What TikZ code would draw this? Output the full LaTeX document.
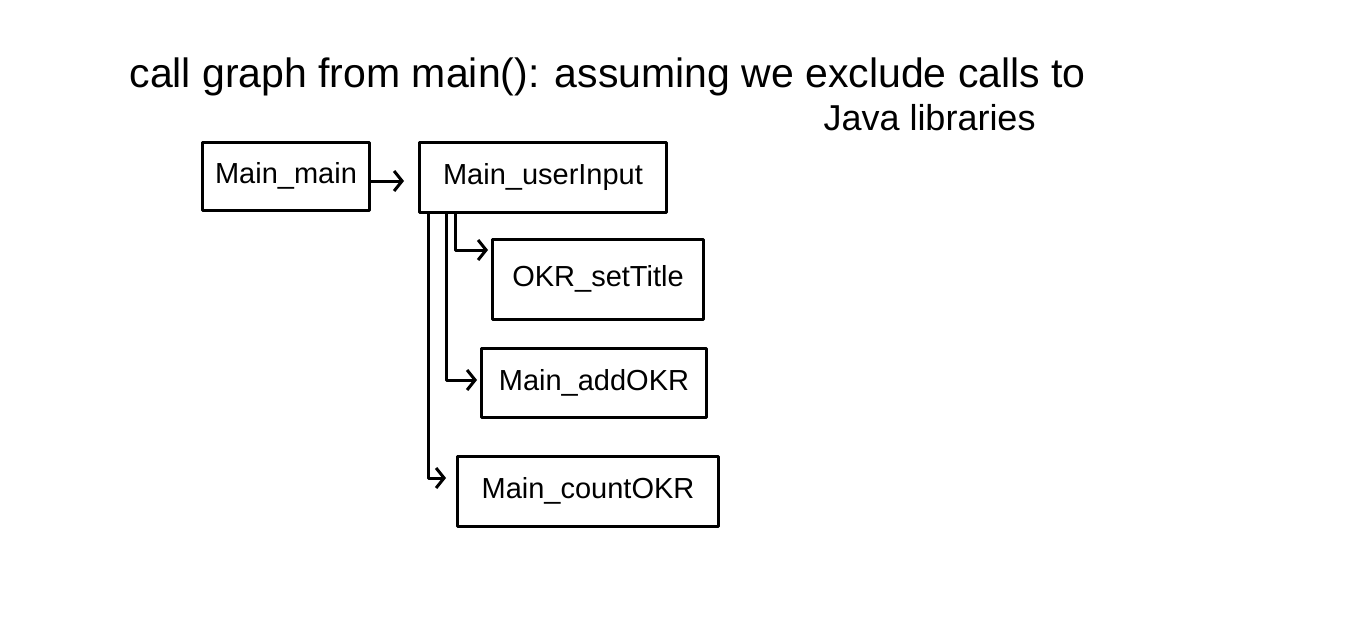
\documentclass[tikz,border=0pt]{standalone}
\usepackage{fontspec}
\setmainfont{Liberation Sans}
\usetikzlibrary{arrows.meta}
\begin{document}
\begin{tikzpicture}[x=1pt,y=-1pt,line width=3pt,line join=round,line cap=round,
  fn/.style={draw,inner sep=0pt,font=\fontsize{29}{33}\selectfont},
  headline/.style={inner sep=0pt,font=\fontsize{41}{46}\selectfont},
  call/.style={-{Straight Barb[length=8pt,width=20pt,line width=3pt]}}]
\useasboundingbox (0,0) rectangle (1368,634);
\node[headline,anchor=base west] (title) at (128,88) {call graph from main(): assuming we exclude calls to};
\node[headline,anchor=base west,font=\fontsize{36}{40}\selectfont] (title2) at (822,130) {Java libraries};
\node[fn,minimum width=167pt,minimum height=68pt] (mm) at (286,176) {Main\_main};
\node[fn,minimum width=247pt,minimum height=70pt] (ui) at (543,177) {Main\_userInput};
\node[fn,minimum width=211pt,minimum height=80pt] (st) at (598,279) {OKR\_setTitle};
\node[fn,minimum width=225pt,minimum height=69pt] (ao) at (594,383) {Main\_addOKR};
\node[fn,minimum width=261pt,minimum height=70pt] (co) at (588,491) {Main\_countOKR};
\draw[call,shorten >=14pt] ([yshift=-5pt]mm.east) -- ([yshift=-5pt]mm.east -| ui.west);
\draw[call,shorten >=3pt] ([xshift=-88pt]ui.south) |- ([yshift=29pt]st.west);
\draw[call,shorten >=3pt] ([xshift=-97pt]ui.south) |- ([yshift=3pt]ao.west);
\draw[call,shorten >=10pt] ([xshift=-115pt]ui.south) |- ([yshift=13pt]co.west);
\end{tikzpicture}
\end{document}
